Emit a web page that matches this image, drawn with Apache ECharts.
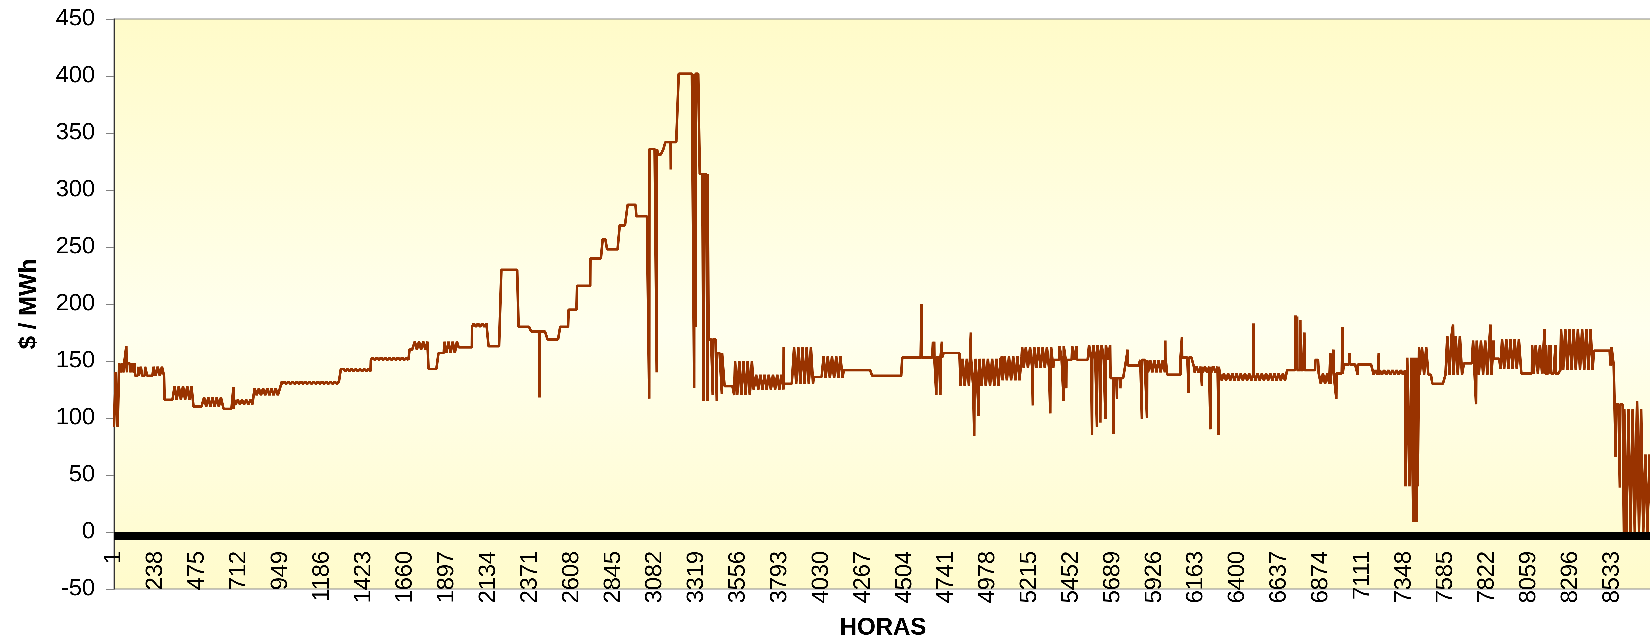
<!DOCTYPE html>
<html>
<head>
<meta charset="utf-8">
<title>Costo marginal horario</title>
<script src="https://cdn.jsdelivr.net/npm/echarts@6/dist/echarts.min.js"></script>
<style>
  html, body { margin: 0; padding: 0; background: #fff; }
  #chart { width: 1650px; height: 644px; }
</style>
</head>
<body>
<div id="chart"></div>
<script>
  // horas del año (eje X)
  var totalHours = 8760

  // cambios de nivel: [hora, $/MWh] - el precio se mantiene hasta el siguiente cambio
  var levels = [
    [1, 92], [30, 148], [121, 137], [289, 116], [454, 110], [625, 108], [690, 112], [796, 120], [957, 130],
    [1293, 143], [1310, 141], [1464, 151], [1684, 160], [1792, 143], [1849, 157], [1964, 162], [2040, 180],
    [2134, 163], [2207, 230], [2305, 180], [2376, 176], [2470, 169], [2542, 180], [2590, 195], [2638, 216],
    [2714, 240], [2784, 257], [2809, 248], [2881, 269], [2926, 287], [2976, 277], [3050, 336], [3100, 331],
    [3130, 336], [3141, 342], [3217, 402], [3337, 314], [3387, 169], [3434, 157], [3478, 128], [3533, 120],
    [3644, 125], [3815, 130], [3986, 136], [4033, 135], [4157, 142], [4319, 137], [4490, 153], [4726, 157],
    [4822, 128], [5059, 133], [5173, 144], [5353, 151], [5676, 135], [5760, 146], [5846, 151], [5999, 138],
    [6075, 153], [6151, 145], [6303, 133], [6682, 142], [6843, 151], [6862, 139], [7005, 147], [7175, 138],
    [7356, 153], [7433, 138], [7509, 130], [7584, 138], [7689, 148], [7741, 138], [7859, 152], [7897, 143],
    [8016, 139], [8238, 142], [8429, 159], [8523, 146], [8553, 112], [8600, 0]
  ]

  // tramos con precio distinto en horas de punta: [desde, hasta, $/MWh en punta]
  var peakBlocks = [
    [1, 29, 140], [140, 160, 145], [178, 190, 145], [216, 288, 145], [339, 453, 128], [510, 624, 118],
    [690, 795, 116], [796, 956, 126], [957, 1292, 132], [1310, 1463, 143], [1464, 1683, 153],
    [1706, 1791, 167], [1877, 1963, 167], [2040, 2133, 183], [3533, 3643, 150], [3653, 3814, 138],
    [3871, 3985, 162], [4033, 4156, 154], [4822, 5058, 152], [5059, 5172, 154], [5173, 5352, 162],
    [5381, 5420, 163], [5457, 5485, 163], [5552, 5675, 164], [5890, 5990, 140], [6151, 6302, 140],
    [6303, 6681, 139], [6870, 6930, 130], [7175, 7355, 142], [7356, 7432, 40], [7433, 7490, 162],
    [7584, 7688, 172], [7741, 7859, 168], [7897, 8015, 169], [8077, 8135, 164], [8238, 8428, 178],
    [8523, 8552, 162], [8600, 8720, 108], [8721, 8760, 68]
  ]
  // horas de punta dentro del dia
  var peakStart = 9
  var peakEnd = 20

  // picos aislados: [hora, $/MWh]
  var spikes = [
    [45, 140], [58, 140], [71, 163], [75, 140], [94, 140], [102, 140], [117, 140], [681, 127],
    [2424, 118], [3049, 117], [3092, 140], [3172, 318], [3305, 126], [3312, 180], [3358, 115], [3381, 115],
    [3411, 120], [3434, 115], [3463, 121], [3815, 162], [4600, 200], [4665, 167], [4672, 167], [4684, 120],
    [4707, 120], [4716, 167], [4881, 175], [4900, 84], [4925, 102], [5234, 111], [5333, 104], [5409, 115],
    [5424, 126], [5571, 85], [5599, 92], [5618, 96], [5647, 99], [5694, 86], [5713, 117], [5732, 126],
    [5774, 160], [5855, 99], [5884, 100], [5988, 168], [6083, 171], [6121, 122], [6197, 128], [6245, 90],
    [6292, 85], [6491, 183], [6729, 190], [6739, 189], [6757, 186], [6780, 175], [6928, 157], [6946, 160],
    [6962, 117], [6998, 180], [7038, 157], [7084, 138], [7204, 157], [7400, 9], [7410, 9], [7420, 9],
    [7627, 182], [7758, 112], [7840, 182], [8148, 178], [8153, 164], [8173, 164], [8184, 164], [8210, 164],
    [8553, 66], [8577, 39], [8675, 115]
  ]

  // escala del eje Y
  var yMin = -50
  var yMax = 450
  var yStep = 50

  var hours = []
  var prices = []
  var k = 0
  for (var h = 1; h <= totalHours; h++) {
    while (k + 1 < levels.length && levels[k + 1][0] <= h) k++
    hours.push(String(h))
    prices.push(levels[k][1])
  }
  peakBlocks.forEach(function (b) {
    for (var h = b[0]; h <= b[1]; h++) {
      var hod = (h - 1) % 24
      if (hod >= peakStart && hod <= peakEnd) prices[h - 1] = b[2]
    }
  })
  spikes.forEach(function (s) {
    prices[s[0] - 1] = s[1]
  })

  var font = 'Liberation Sans, Arial, sans-serif'
  // con 8760 puntos la polilinea descarta tramos de menos de 2px; un dpr mayor
  // mantiene verticales los saltos horarios
  var chart = echarts.init(document.getElementById('chart'), null, { devicePixelRatio: 3 })
  chart.setOption({
    animation: false,
    textStyle: { fontFamily: font },
    grid: {
      left: 114,
      right: -2,
      top: 19,
      bottom: 55,
      outerBoundsMode: 'none',
      containLabel: false,
      show: true,
      borderColor: '#8c8c8c',
      borderWidth: 1,
      backgroundColor: {
        type: 'linear', x: 0, y: 0, x2: 0, y2: 1,
        colorStops: [
          { offset: 0, color: '#FFFBC9' },
          { offset: 0.55, color: '#FFFFEE' },
          { offset: 1, color: '#FFFBCB' }
        ]
      }
    },
    xAxis: {
      type: 'category',
      data: hours,
      boundaryGap: false,
      axisLine: { show: false },
      axisTick: { show: false },
      splitLine: { show: false },
      // las etiquetas van justo debajo de la franja negra del cero
      axisLabel: { interval: 236, rotate: 90, margin: -38, fontSize: 23.5, color: '#000', fontFamily: font },
      name: 'HORAS',
      nameLocation: 'middle',
      nameGap: 27,
      nameTextStyle: { fontSize: 24, fontWeight: 'bold', color: '#000', fontFamily: font }
    },
    yAxis: {
      type: 'value',
      min: yMin,
      max: yMax,
      interval: yStep,
      axisLine: { show: true, lineStyle: { color: '#333', width: 1 } },
      axisTick: { show: true, length: 8, lineStyle: { color: '#808080' } },
      splitLine: { show: false },
      axisLabel: { margin: 19, fontSize: 23.5, color: '#000', fontFamily: font },
      name: '$ / MWh',
      nameLocation: 'middle',
      nameRotate: 90,
      nameGap: 73,
      nameTextStyle: { fontSize: 24, fontWeight: 'bold', color: '#000', fontFamily: font }
    },
    series: [{
      name: 'Costo marginal',
      type: 'line',
      data: prices,
      symbol: 'none',
      showSymbol: false,
      lineStyle: { color: '#993300', width: 2.6 },
      markLine: {
        silent: true,
        symbol: ['none', 'none'],
        label: { show: false },
        lineStyle: { color: '#000', width: 8, type: 'solid' },
        data: [{ yAxis: -3.6 }]
      }
    }]
  })
</script>
</body>
</html>
